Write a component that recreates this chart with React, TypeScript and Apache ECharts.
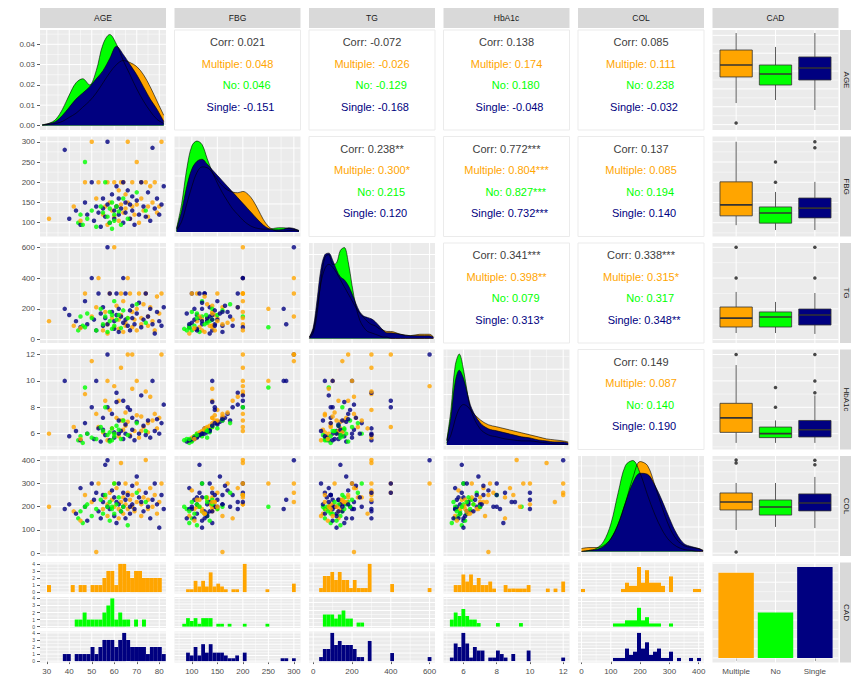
import React, { useEffect, useRef } from "react";
import * as echarts from "echarts";

// ---------- data ----------
const GROUPS = ["Multiple", "No", "Single"];
const GROUP_COLORS = ["#FFA500", "#00FF00", "#000080"];
const VARIABLES = ["AGE", "FBG", "TG", "HbA1c", "COL"];

// patient measurements, one array per variable and CAD group
const AGE_MULTIPLE = [31, 42, 47, 50, 52, 53, 55, 56, 57, 57, 58, 59, 60, 60, 61, 62, 62, 63, 63, 64, 64, 65, 65, 66, 66, 67, 68, 68, 69, 70, 70, 71, 72, 72, 73, 74, 75, 75, 76, 77, 78, 79, 80, 81, 45];
const FBG_MULTIPLE = [110, 140, 200, 300, 160, 200, 120, 140, 200, 95, 150, 130, 200, 115, 140, 180, 105, 200, 145, 125, 200, 170, 135, 300, 150, 110, 200, 140, 120, 250, 145, 100, 200, 160, 130, 200, 140, 115, 190, 150, 200, 125, 140, 300, 105];
const TG_MULTIPLE = [120, 90, 300, 150, 210, 400, 60, 180, 100, 40, 300, 140, 600, 80, 220, 130, 70, 300, 160, 50, 250, 110, 90, 400, 140, 300, 180, 80, 130, 200, 60, 300, 140, 100, 230, 300, 90, 150, 210, 120, 60, 280, 170, 300, 75];
const HBA1C_MULTIPLE = [6.0, 6.5, 9.0, 11.5, 7.5, 6.5, 6.1, 8.5, 10.0, 5.5, 7.8, 6.4, 9.6, 6.0, 7.2, 8.5, 5.8, 11.0, 7.0, 6.3, 7.0, 7.6, 6.6, 12.0, 6.9, 5.9, 12.0, 9.4, 6.2, 10.0, 7.4, 5.7, 6.2, 7.3, 6.5, 9.2, 6.8, 6.1, 8.8, 7.0, 7.5, 6.4, 7.2, 12.0, 5.6];
const COL_MULTIPLE = [200, 180, 250, 220, 5, 300, 190, 240, 210, 160, 260, 230, 300, 200, 280, 150, 190, 388, 220, 170, 240, 300, 210, 260, 190, 230, 250, 200, 180, 300, 220, 270, 210, 160, 240, 401, 190, 230, 280, 200, 250, 170, 220, 300, 140];

const AGE_NO = [44, 45, 46, 47, 48, 50, 52, 54, 55, 56, 57, 58, 58, 59, 59, 60, 60, 61, 62, 63, 64, 66, 70, 74];
const FBG_NO = [100, 120, 95, 250, 110, 130, 90, 140, 125, 200, 115, 100, 135, 85, 150, 120, 105, 140, 128, 95, 160, 110, 175, 130];
const TG_NO = [60, 150, 90, 80, 170, 140, 60, 200, 100, 150, 50, 180, 120, 70, 160, 250, 90, 130, 160, 75, 190, 140, 230, 110];
const HBA1C_NO = [5.5, 5.8, 5.3, 9.5, 6.0, 5.7, 5.6, 6.5, 6.2, 8.0, 5.9, 5.4, 6.1, 5.5, 6.4, 6.0, 5.8, 6.6, 6.3, 5.6, 7.0, 5.9, 6.8, 6.2];
const COL_NO = [150, 180, 130, 200, 210, 160, 190, 230, 170, 250, 200, 220, 140, 200, 190, 300, 170, 210, 240, 180, 200, 120, 260, 220];

const AGE_SINGLE = [38, 40, 43, 45, 47, 48, 50, 51, 52, 53, 54, 55, 55, 56, 57, 57, 58, 59, 60, 60, 61, 61, 62, 62, 63, 64, 64, 65, 65, 66, 67, 67, 68, 68, 69, 70, 71, 72, 73, 74, 75, 76, 77, 78, 79, 80, 81, 82];
const FBG_SINGLE = [280, 110, 130, 95, 150, 120, 200, 105, 140, 125, 90, 160, 135, 115, 300, 145, 100, 170, 130, 110, 190, 140, 120, 160, 135, 200, 100, 150, 125, 180, 145, 110, 165, 130, 95, 155, 120, 200, 140, 115, 175, 105, 285, 135, 160, 120, 145, 190];
const TG_SINGLE = [200, 160, 120, 80, 250, 100, 400, 130, 60, 300, 170, 90, 210, 140, 600, 100, 300, 180, 120, 70, 300, 160, 200, 50, 150, 400, 110, 130, 300, 90, 190, 60, 220, 140, 100, 170, 240, 80, 130, 300, 150, 200, 100, 40, 180, 120, 90, 210];
const HBA1C_SINGLE = [10.0, 5.8, 6.2, 5.5, 6.8, 6.0, 8.0, 5.6, 10.0, 6.4, 5.4, 7.2, 6.3, 5.9, 12.0, 8.0, 5.5, 7.5, 6.1, 5.7, 9.1, 8.4, 6.0, 7.0, 6.2, 8.5, 5.6, 6.7, 6.0, 8.0, 7.8, 5.8, 7.2, 6.3, 5.5, 6.9, 6.0, 8.9, 6.6, 5.9, 7.0, 5.7, 10.0, 6.2, 7.1, 6.0, 6.8, 8.2];
const COL_SINGLE = [190, 210, 170, 280, 200, 140, 300, 230, 260, 180, 150, 250, 220, 380, 400, 200, 190, 270, 160, 240, 220, 130, 300, 210, 180, 260, 200, 230, 150, 250, 200, 170, 290, 210, 190, 330, 240, 220, 180, 260, 200, 150, 230, 300, 210, 110, 250, 190];

// density curves on the diagonal
const AGE_DENS_X = [28, 31, 34, 37, 40, 43, 46, 49, 52, 55, 58, 61, 64, 67, 70, 73, 76, 79, 82];
const AGE_DENS_MULTIPLE = [0.0002, 0.0005, 0.001, 0.002, 0.004, 0.006, 0.009, 0.012, 0.016, 0.021, 0.026, 0.030, 0.032, 0.031, 0.029, 0.025, 0.019, 0.012, 0.005];
const AGE_DENS_NO = [0.0003, 0.001, 0.003, 0.008, 0.015, 0.021, 0.023, 0.020, 0.027, 0.040, 0.0448, 0.040, 0.032, 0.025, 0.018, 0.012, 0.007, 0.003, 0.001];
const AGE_DENS_SINGLE = [0.0003, 0.001, 0.002, 0.005, 0.009, 0.013, 0.016, 0.019, 0.023, 0.027, 0.033, 0.039, 0.035, 0.030, 0.025, 0.019, 0.013, 0.008, 0.002];

const FBG_DENS_X = [70, 80, 90, 100, 110, 120, 130, 140, 150, 160, 170, 180, 190, 200, 210, 220, 230, 240, 250, 260, 270, 280, 290, 300, 310];
const FBG_DENS_MULTIPLE = [0.0002, 0.0015, 0.004, 0.0065, 0.0085, 0.0093, 0.0092, 0.0085, 0.0075, 0.0066, 0.006, 0.0057, 0.0056, 0.0058, 0.0054, 0.0045, 0.0032, 0.0018, 0.0008, 0.0003, 0.0001, 0.0001, 0.0002, 0.0002, 0.0001];
const FBG_DENS_NO = [0.0005, 0.004, 0.009, 0.0123, 0.013, 0.0125, 0.0105, 0.0086, 0.007, 0.0056, 0.0044, 0.0033, 0.0025, 0.0017, 0.0011, 0.0007, 0.0005, 0.0004, 0.0004, 0.0005, 0.0006, 0.0006, 0.0005, 0.0004, 0.0002];
const FBG_DENS_SINGLE = [0.0004, 0.003, 0.0065, 0.009, 0.0101, 0.0104, 0.0097, 0.0089, 0.0081, 0.0073, 0.0065, 0.0057, 0.0049, 0.0041, 0.0033, 0.0025, 0.0017, 0.001, 0.0005, 0.0003, 0.0003, 0.0004, 0.0006, 0.0005, 0.0002];

const TG_DENS_X = [-20, 0, 20, 40, 60, 80, 100, 120, 140, 160, 180, 200, 220, 240, 260, 280, 300, 320, 340, 360, 380, 400, 450, 500, 550, 600, 620];
const TG_DENS_MULTIPLE = [0.0001, 0.0006, 0.0022, 0.004, 0.005, 0.0053, 0.0051, 0.0047, 0.0042, 0.0037, 0.0032, 0.0027, 0.0022, 0.0018, 0.0015, 0.0012, 0.001, 0.0009, 0.0007, 0.0006, 0.0005, 0.0005, 0.0003, 0.0002, 0.0003, 0.0003, 0.0001];
const TG_DENS_NO = [0, 0.0004, 0.0018, 0.0042, 0.0058, 0.006, 0.0053, 0.0054, 0.0063, 0.0065, 0.0055, 0.0038, 0.0023, 0.0013, 0.0008, 0.0005, 0.0004, 0.0003, 0.0002, 0.0001, 0.0001, 0, 0, 0, 0, 0, 0];
const TG_DENS_SINGLE = [0.0001, 0.0008, 0.0028, 0.005, 0.006, 0.0061, 0.0056, 0.0049, 0.0044, 0.0042, 0.0038, 0.0032, 0.0025, 0.0019, 0.0016, 0.0015, 0.0014, 0.0012, 0.0009, 0.0006, 0.0004, 0.0004, 0.0003, 0.0002, 0.0002, 0.0002, 0.0001];

const HBA1C_DENS_X = [5, 5.25, 5.5, 5.75, 6, 6.25, 6.5, 7, 7.5, 8, 8.5, 9, 9.5, 10, 10.5, 11, 11.5, 12, 12.3];
const HBA1C_DENS_MULTIPLE = [0.02, 0.1, 0.25, 0.36, 0.4, 0.38, 0.33, 0.25, 0.2, 0.18, 0.16, 0.14, 0.12, 0.1, 0.08, 0.06, 0.05, 0.04, 0.03];
const HBA1C_DENS_NO = [0.05, 0.35, 0.78, 0.9, 0.75, 0.5, 0.32, 0.16, 0.1, 0.08, 0.06, 0.05, 0.04, 0.04, 0.03, 0.02, 0.01, 0.005, 0.002];
const HBA1C_DENS_SINGLE = [0.04, 0.28, 0.62, 0.74, 0.66, 0.5, 0.36, 0.22, 0.16, 0.14, 0.12, 0.1, 0.08, 0.07, 0.05, 0.04, 0.03, 0.03, 0.02];

const COL_DENS_X = [0, 25, 50, 75, 100, 125, 150, 175, 200, 225, 250, 275, 300, 325, 350, 375, 400, 415];
const COL_DENS_MULTIPLE = [0.0003, 0.0004, 0.0004, 0.0006, 0.0013, 0.0028, 0.005, 0.0075, 0.0092, 0.0088, 0.0068, 0.0045, 0.0025, 0.0012, 0.0006, 0.0004, 0.0003, 0.0001];
const COL_DENS_NO = [0, 0.0001, 0.0003, 0.001, 0.0028, 0.006, 0.0088, 0.0093, 0.008, 0.0058, 0.0038, 0.0022, 0.0011, 0.0005, 0.0002, 0.0001, 0, 0];
const COL_DENS_SINGLE = [0, 0.0001, 0.0002, 0.0005, 0.0013, 0.0028, 0.005, 0.007, 0.008, 0.0079, 0.0068, 0.0052, 0.0034, 0.0018, 0.0008, 0.0005, 0.0003, 0.0001];

// box summaries per group: [lower whisker, Q1, median, Q3, upper whisker]
const AGE_BOX = [[42.1, 56.7, 63.4, 71.8, 81.3], [43.8, 52.2, 58.4, 63.4, 73.5], [38.2, 55.0, 61.7, 67.9, 81.3]];
const AGE_OUTLIERS = [[30.9], [], []];
const FBG_BOX = [[94, 117, 144, 201, 300], [82, 99, 124, 139, 176], [82, 112, 136, 161, 201]];
const FBG_OUTLIERS = [[], [200, 250], [285, 300]];
const TG_BOX = [[43, 82, 140, 212, 310], [43, 82, 147, 180, 245], [37, 95, 160, 199, 303]];
const TG_OUTLIERS = [[400, 600], [], [400, 600]];
const HBA1C_BOX = [[5.3, 6.1, 7.2, 8.3, 11.2], [5.3, 5.7, 6.0, 6.5, 7.0], [5.3, 5.75, 6.3, 7.0, 8.9]];
const HBA1C_OUTLIERS = [[12.0], [8.0, 9.5], [9.1, 10.0, 12.0]];
const COL_BOX = [[100, 186, 220, 259, 302], [113, 164, 199, 229, 302], [108, 182, 216, 255, 328]];
const COL_OUTLIERS = [[5, 388, 401], [], [380, 400]];

// correlation text in the upper panels
const CORR_LABELS = ["Corr", "Multiple", "No", "Single"];
const CORR_AGE_FBG = ["0.021", "0.048", "0.046", "-0.151"];
const CORR_AGE_TG = ["-0.072", "-0.026", "-0.129", "-0.168"];
const CORR_AGE_HBA1C = ["0.138", "0.174", "0.180", "-0.048"];
const CORR_AGE_COL = ["0.085", "0.111", "0.238", "-0.032"];
const CORR_FBG_TG = ["0.238**", "0.300*", "0.215", "0.120"];
const CORR_FBG_HBA1C = ["0.772***", "0.804***", "0.827***", "0.732***"];
const CORR_FBG_COL = ["0.137", "0.085", "0.194", "0.140"];
const CORR_TG_HBA1C = ["0.341***", "0.398**", "0.079", "0.313*"];
const CORR_TG_COL = ["0.338***", "0.315*", "0.317", "0.348**"];
const CORR_HBA1C_COL = ["0.149", "0.087", "0.140", "0.190"];

// axis breaks
const AGE_BREAKS = [30, 40, 50, 60, 70, 80];
const FBG_BREAKS = [100, 150, 200, 250, 300];
const TG_BREAKS = [0, 200, 400, 600];
const HBA1C_BREAKS = [6, 8, 10, 12];
const COL_BREAKS = [0, 100, 200, 300, 400];
const CAD_BREAKS = [1, 2, 3];

// ---------- layout ----------
const FONT = "'Liberation Sans', Arial, Helvetica, sans-serif";
const PANEL_W = 126;
const PANEL_H = 100;
const COL_LEFT = [40, 174.5, 309, 443.5, 578, 712.5];
const ROW_TOP = [30, 136.5, 243, 349.5, 456, 562.5];
const STRIP_TOP = 8;
const STRIP_H = 20;
const RIGHT_STRIP_X = 840;
const RIGHT_STRIP_W = 12;
const RIGHT_TEXT_X = 846;
const FACET_H = 31;
const FACET_STEP = 34.5;
const HIST_BINS = 30;
const LINE_OFFSETS = [12, 33.5, 55, 76.5];
const BOX_WIDTH = 0.82;
const BAR_WIDTH = 0.9;

const midpoints = (b: number[]) => {
  const step = b[1] - b[0];
  return [b[0] - step / 2, ...b.map((v) => v + step / 2)];
};

const MEASURES: Record<string, number[][]> = {
  AGE: [AGE_MULTIPLE, AGE_NO, AGE_SINGLE],
  FBG: [FBG_MULTIPLE, FBG_NO, FBG_SINGLE],
  TG: [TG_MULTIPLE, TG_NO, TG_SINGLE],
  HbA1c: [HBA1C_MULTIPLE, HBA1C_NO, HBA1C_SINGLE],
  COL: [COL_MULTIPLE, COL_NO, COL_SINGLE],
};

const SCALES: Record<string, any> = {
  AGE: { min: 27, max: 83, breaks: AGE_BREAKS, minor: midpoints(AGE_BREAKS) },
  FBG: { min: 66, max: 313, breaks: FBG_BREAKS, minor: midpoints(FBG_BREAKS) },
  TG: { min: -22, max: 628, breaks: TG_BREAKS, minor: midpoints(TG_BREAKS) },
  HbA1c: { min: 4.8, max: 12.38, breaks: HBA1C_BREAKS, minor: midpoints(HBA1C_BREAKS) },
  COL: { min: -12, max: 418, breaks: COL_BREAKS, minor: midpoints(COL_BREAKS) },
};
const CAD_SCALE = { min: 0.4, max: 3.6, breaks: CAD_BREAKS, minor: [] as number[] };

const DENSITY: Record<string, any> = {
  AGE: { x: AGE_DENS_X, y: [AGE_DENS_MULTIPLE, AGE_DENS_NO, AGE_DENS_SINGLE], breaks: [0, 0.01, 0.02, 0.03, 0.04] },
  FBG: { x: FBG_DENS_X, y: [FBG_DENS_MULTIPLE, FBG_DENS_NO, FBG_DENS_SINGLE], breaks: [0, 0.004, 0.008, 0.012] },
  TG: { x: TG_DENS_X, y: [TG_DENS_MULTIPLE, TG_DENS_NO, TG_DENS_SINGLE], breaks: [0, 0.002, 0.004, 0.006] },
  HbA1c: { x: HBA1C_DENS_X, y: [HBA1C_DENS_MULTIPLE, HBA1C_DENS_NO, HBA1C_DENS_SINGLE], breaks: [0, 0.25, 0.5, 0.75] },
  COL: { x: COL_DENS_X, y: [COL_DENS_MULTIPLE, COL_DENS_NO, COL_DENS_SINGLE], breaks: [0, 0.0025, 0.005, 0.0075] },
};

const BOXES: Record<string, any> = {
  AGE: { stats: AGE_BOX, outliers: AGE_OUTLIERS },
  FBG: { stats: FBG_BOX, outliers: FBG_OUTLIERS },
  TG: { stats: TG_BOX, outliers: TG_OUTLIERS },
  HbA1c: { stats: HBA1C_BOX, outliers: HBA1C_OUTLIERS },
  COL: { stats: COL_BOX, outliers: COL_OUTLIERS },
};

const CORR = [
  { row: 0, col: 1, values: CORR_AGE_FBG },
  { row: 0, col: 2, values: CORR_AGE_TG },
  { row: 0, col: 3, values: CORR_AGE_HBA1C },
  { row: 0, col: 4, values: CORR_AGE_COL },
  { row: 1, col: 2, values: CORR_FBG_TG },
  { row: 1, col: 3, values: CORR_FBG_HBA1C },
  { row: 1, col: 4, values: CORR_FBG_COL },
  { row: 2, col: 3, values: CORR_TG_HBA1C },
  { row: 2, col: 4, values: CORR_TG_COL },
  { row: 3, col: 4, values: CORR_HBA1C_COL },
];

// interleave the three groups so the scatter points overlap in mixed order
const DRAW_ORDER: [number, number][] = [];
{
  const n = Math.max(AGE_MULTIPLE.length, AGE_SINGLE.length);
  for (let i = 0; i < n; i++) {
    if (i < AGE_MULTIPLE.length) DRAW_ORDER.push([0, i]);
    if (i < AGE_SINGLE.length) DRAW_ORDER.push([2, i]);
    if (i % 2 === 0 && i / 2 < AGE_NO.length) DRAW_ORDER.push([1, i / 2]);
  }
}

function buildOption() {
  const grid: any[] = [];
  const xAxis: any[] = [];
  const yAxis: any[] = [];
  const series: any[] = [];
  const graphic: any[] = [];

  const makeAxis = (gi: number, position: string, s: any, show: boolean, fmt?: any, fontSize = 8) => ({
    type: "value",
    gridIndex: gi,
    position,
    min: s.min,
    max: s.max,
    axisLine: { show: false },
    splitLine: { show: false },
    axisTick: { show, customValues: s.breaks, length: 3, lineStyle: { color: "#333333", width: 0.8 } },
    axisLabel: {
      show,
      customValues: s.breaks,
      formatter: fmt,
      color: "#4D4D4D",
      fontSize,
      fontFamily: FONT,
      margin: 5,
      hideOverlap: false,
    },
  });

  const addPanel = (
    left: number, top: number, width: number, height: number,
    xs: any, ys: any, showX: boolean, showY: boolean,
    fmtX?: any, fmtY?: any, ySize = 8,
  ) => {
    const gi = grid.length;
    grid.push({ left, top, width, height, show: true, backgroundColor: "#EBEBEB", borderWidth: 0 });
    xAxis.push(makeAxis(gi, "bottom", xs, showX, fmtX));
    yAxis.push(makeAxis(gi, "left", ys, showY, fmtY, ySize));
    const inX = (v: number) => v >= xs.min && v <= xs.max;
    const inY = (v: number) => v >= ys.min && v <= ys.max;
    const lines: number[][] = [];
    xs.breaks.filter(inX).forEach((v: number) => lines.push([v, 0, 1]));
    (xs.minor || []).filter(inX).forEach((v: number) => lines.push([v, 0, 0]));
    ys.breaks.filter(inY).forEach((v: number) => lines.push([v, 1, 1]));
    (ys.minor || []).filter(inY).forEach((v: number) => lines.push([v, 1, 0]));
    series.push({
      type: "custom",
      xAxisIndex: gi,
      yAxisIndex: gi,
      z: 1,
      silent: true,
      data: lines,
      renderItem: (params: any, api: any) => {
        const cs = params.coordSys;
        const v = api.value(0);
        const orient = api.value(1);
        const major = api.value(2);
        const style = { stroke: "#FFFFFF", lineWidth: major ? 1 : 0.5 };
        if (orient === 0) {
          const x = api.coord([v, ys.min])[0];
          return { type: "line", shape: { x1: x, y1: cs.y, x2: x, y2: cs.y + cs.height }, style };
        }
        const y = api.coord([xs.min, v])[1];
        return { type: "line", shape: { x1: cs.x, y1: y, x2: cs.x + cs.width, y2: y }, style };
      },
    });
    return gi;
  };

  // strips
  const stripNames = [...VARIABLES, "CAD"];
  stripNames.forEach((name, k) => {
    graphic.push({
      type: "rect", silent: true,
      shape: { x: COL_LEFT[k], y: STRIP_TOP, width: PANEL_W, height: STRIP_H },
      style: { fill: "#D9D9D9" },
    });
    graphic.push({
      type: "text", silent: true,
      x: COL_LEFT[k] + PANEL_W / 2, y: STRIP_TOP + STRIP_H / 2,
      style: { text: name, fill: "#1A1A1A", font: `8.5px ${FONT}`, align: "center", verticalAlign: "middle", textAlign: "center", textVerticalAlign: "middle" },
    });
    graphic.push({
      type: "rect", silent: true,
      shape: { x: RIGHT_STRIP_X, y: ROW_TOP[k], width: RIGHT_STRIP_W, height: PANEL_H },
      style: { fill: "#D9D9D9" },
    });
    graphic.push({
      type: "text", silent: true,
      x: RIGHT_TEXT_X, y: ROW_TOP[k] + PANEL_H / 2, rotation: -Math.PI / 2,
      style: { text: name, fill: "#1A1A1A", font: `8px ${FONT}`, align: "center", verticalAlign: "middle", textAlign: "center", textVerticalAlign: "middle" },
    });
  });

  // diagonal densities
  VARIABLES.forEach((v, k) => {
    const d = DENSITY[v];
    const peak = Math.max(...d.y.flat());
    const ys = { min: -0.05 * peak, max: 1.05 * peak, breaks: d.breaks, minor: midpoints(d.breaks) };
    const gi = addPanel(COL_LEFT[k], ROW_TOP[k], PANEL_W, PANEL_H, SCALES[v], ys, false, k === 0, undefined, (val: number) => val.toFixed(2));
    d.y.forEach((curve: number[], g: number) => {
      series.push({
        type: "line", xAxisIndex: gi, yAxisIndex: gi, z: 2, silent: true,
        data: d.x.map((x: number, j: number) => [x, curve[j]]),
        smooth: 0.35, symbol: "none",
        lineStyle: { color: "#000000", width: 0.6 },
        areaStyle: { color: GROUP_COLORS[g], opacity: 1 },
      });
    });
  });

  // lower-triangle scatter plots
  for (let r = 1; r < 5; r++) {
    for (let c = 0; c < r; c++) {
      const vx = VARIABLES[c];
      const vy = VARIABLES[r];
      const gi = addPanel(COL_LEFT[c], ROW_TOP[r], PANEL_W, PANEL_H, SCALES[vx], SCALES[vy], false, c === 0);
      series.push({
        type: "scatter", xAxisIndex: gi, yAxisIndex: gi, z: 2, silent: true,
        symbolSize: 4.5,
        data: DRAW_ORDER.map(([g, i]) => [MEASURES[vx][g][i], MEASURES[vy][g][i], g]),
        itemStyle: { color: (p: any) => GROUP_COLORS[p.value[2]] },
      });
    }
  }

  // upper-triangle correlation text
  CORR.forEach(({ row, col, values }) => {
    const x0 = COL_LEFT[col];
    const y0 = ROW_TOP[row];
    graphic.push({
      type: "rect", silent: true,
      shape: { x: x0, y: y0, width: PANEL_W, height: PANEL_H },
      style: { fill: "#FFFFFF", stroke: "#EBEBEB", lineWidth: 1 },
    });
    values.forEach((val, k) => {
      const pad = k === 0 ? "" : "\u00A0".repeat(8 - CORR_LABELS[k].length);
      graphic.push({
        type: "text", silent: true,
        x: x0 + PANEL_W / 2, y: y0 + LINE_OFFSETS[k],
        style: {
          text: `${pad}${CORR_LABELS[k]}: ${val}`,
          fill: k === 0 ? "#404040" : GROUP_COLORS[k - 1],
          font: `11px ${FONT}`,
          align: "center", verticalAlign: "middle", textAlign: "center", textVerticalAlign: "middle",
        },
      });
    });
  });

  // right column boxplots
  VARIABLES.forEach((v, r) => {
    const gi = addPanel(COL_LEFT[5], ROW_TOP[r], PANEL_W, PANEL_H, CAD_SCALE, SCALES[v], false, false);
    const b = BOXES[v];
    series.push({
      type: "custom", xAxisIndex: gi, yAxisIndex: gi, z: 2, silent: true,
      data: b.stats.map((s: number[], g: number) => [g + 1, ...s, g]),
      encode: { x: 0, y: [1, 2, 3, 4, 5] },
      renderItem: (params: any, api: any) => {
        const k = api.value(0);
        const lo = api.value(1), q1 = api.value(2), med = api.value(3), q3 = api.value(4), hi = api.value(5);
        const g = api.value(6);
        const pLo = api.coord([k, lo]);
        const pHi = api.coord([k, hi]);
        const tl = api.coord([k - BOX_WIDTH / 2, q3]);
        const br = api.coord([k + BOX_WIDTH / 2, q1]);
        const ym = api.coord([k, med])[1];
        const edge = { stroke: "#333333", lineWidth: 0.8 };
        return {
          type: "group",
          children: [
            { type: "line", shape: { x1: pHi[0], y1: pHi[1], x2: pHi[0], y2: tl[1] }, style: edge },
            { type: "line", shape: { x1: pLo[0], y1: br[1], x2: pLo[0], y2: pLo[1] }, style: edge },
            { type: "rect", shape: { x: tl[0], y: tl[1], width: br[0] - tl[0], height: br[1] - tl[1] }, style: { fill: GROUP_COLORS[g], ...edge } },
            { type: "line", shape: { x1: tl[0], y1: ym, x2: br[0], y2: ym }, style: { stroke: "#333333", lineWidth: 1.6 } },
          ],
        };
      },
    });
    series.push({
      type: "scatter", xAxisIndex: gi, yAxisIndex: gi, z: 3, silent: true,
      symbolSize: 3.5,
      data: b.outliers.flatMap((arr: number[], g: number) => arr.map((o) => [g + 1, o])),
      itemStyle: { color: "#1A1A1A" },
    });
  });

  // bottom row: histograms faceted by CAD group
  VARIABLES.forEach((v, c) => {
    const groups = MEASURES[v];
    const all = groups.flat();
    const lo = Math.min(...all);
    const hi = Math.max(...all);
    const w = (hi - lo) / (HIST_BINS - 1);
    const counts = groups.map((vals) => {
      const n = new Array(HIST_BINS).fill(0);
      vals.forEach((x) => { n[Math.round((x - lo) / w)] += 1; });
      return n;
    });
    const peak = Math.max(...counts.flat());
    const step = peak <= 6 ? 1 : peak <= 12 ? 2 : 5;
    const breaks: number[] = [];
    for (let t = 0; t <= peak; t += step) breaks.push(t);
    const ys = { min: -0.05 * peak, max: 1.05 * peak, breaks, minor: breaks.map((b) => b + step / 2) };
    GROUPS.forEach((_, g) => {
      const top = ROW_TOP[5] + g * FACET_STEP;
      const gi = addPanel(COL_LEFT[c], top, PANEL_W, FACET_H, SCALES[v], ys, g === 2, c === 0, undefined, undefined, 5);
      series.push({
        type: "custom", xAxisIndex: gi, yAxisIndex: gi, z: 2, silent: true,
        data: counts[g].map((n, j) => [lo + j * w, n]).filter((d) => d[1] > 0),
        encode: { x: 0, y: 1 },
        renderItem: (params: any, api: any) => {
          const x = api.value(0);
          const n = api.value(1);
          const p0 = api.coord([x - w / 2, n]);
          const p1 = api.coord([x + w / 2, 0]);
          return {
            type: "rect",
            shape: { x: p0[0], y: p0[1], width: p1[0] - p0[0], height: p1[1] - p0[1] },
            style: { fill: GROUP_COLORS[g] },
          };
        },
      });
    });
  });

  // bottom-right bar chart of group sizes
  {
    const sizes = GROUPS.map((_, g) => MEASURES.AGE[g].length);
    const peak = Math.max(...sizes);
    const breaks = [0, 10, 20, 30, 40, 50];
    const ys = { min: -0.05 * peak, max: 1.05 * peak, breaks, minor: breaks.map((b) => b + 5) };
    const gi = addPanel(COL_LEFT[5], ROW_TOP[5], PANEL_W, PANEL_H, CAD_SCALE, ys, true, false, (val: number) => GROUPS[val - 1]);
    series.push({
      type: "custom", xAxisIndex: gi, yAxisIndex: gi, z: 2, silent: true,
      data: sizes.map((n, g) => [g + 1, n, g]),
      encode: { x: 0, y: 1 },
      renderItem: (params: any, api: any) => {
        const k = api.value(0);
        const n = api.value(1);
        const g = api.value(2);
        const p0 = api.coord([k - BAR_WIDTH / 2, n]);
        const p1 = api.coord([k + BAR_WIDTH / 2, 0]);
        return {
          type: "rect",
          shape: { x: p0[0], y: p0[1], width: p1[0] - p0[0], height: p1[1] - p0[1] },
          style: { fill: GROUP_COLORS[g] },
        };
      },
    });
  }

  return {
    animation: false,
    backgroundColor: "#FFFFFF",
    textStyle: { fontFamily: FONT },
    grid,
    xAxis,
    yAxis,
    series,
    graphic: { elements: graphic },
  };
}

export default function App() {
  const ref = useRef<HTMLDivElement>(null);
  useEffect(() => {
    if (!ref.current) return;
    const chart = echarts.init(ref.current, undefined, { renderer: "svg" });
    chart.setOption(buildOption() as any);
    return () => chart.dispose();
  }, []);
  return (
    <div
      ref={ref}
      style={{ position: "fixed", left: 0, top: 0, width: 851, height: 681 }}
    />
  );
}
